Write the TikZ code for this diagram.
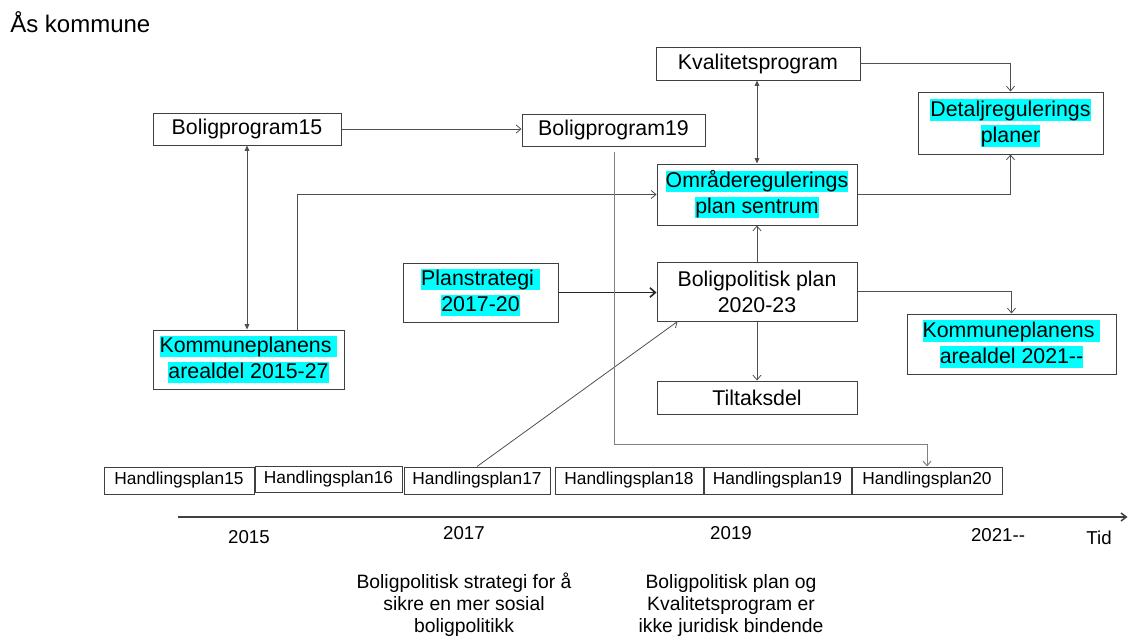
\documentclass[tikz,border=0pt]{standalone}
\usepackage{fontspec}
\setmainfont{Liberation Sans}
\usetikzlibrary{arrows.meta,calc}
\definecolor{hl}{HTML}{00FFFF}
\definecolor{edgecol}{HTML}{404040}
\definecolor{conncol}{HTML}{505050}
\definecolor{lgray}{HTML}{808080}
\newcommand{\hlc}[1]{{\setlength{\fboxsep}{0pt}\colorbox{hl}{\rule[-0.2em]{0pt}{1em}#1}}}
\begin{document}
\begin{tikzpicture}[x=0.75pt,y=-0.75pt,
  box/.style={draw=edgecol, line width=0.75pt, inner sep=0pt, align=center, font=\fontsize{16}{19.5}\selectfont, text=black},
  hbox/.style={draw=edgecol, line width=0.75pt, inner sep=0pt, font=\fontsize{13}{15}\selectfont, minimum height=20.25pt},
  link/.style={draw=conncol, line width=0.6pt, -{Straight Barb[length=3.5pt,width=6pt]}},
  boldlink/.style={draw=black!85, line width=1.2pt, -{Straight Barb[length=4pt,width=7pt]}},
  dbl/.style={draw=conncol, line width=0.6pt, {Triangle[length=4pt,width=3.5pt]}-{Triangle[length=4pt,width=3.5pt]}},
  glink/.style={draw=lgray, line width=0.75pt, -{Straight Barb[length=3.5pt,width=6pt]}},
  axis/.style={draw=edgecol, line width=1.1pt, -{Straight Barb[length=4pt,width=6pt]}},
  yr/.style={font=\fontsize{14}{16}\selectfont, inner sep=0pt},
  note/.style={align=center, font=\fontsize{14.5}{16.5}\selectfont, inner sep=0pt},
  title/.style={font=\fontsize{18}{21}\selectfont, inner sep=0pt}]
\useasboundingbox (0,0) rectangle (1128,639);

\node[title, anchor=base west] (ttl) at (10,32) {Ås kommune};

\node[box, minimum width=153pt, minimum height=24.75pt] (kval) at (758,63.5) {Kvalitetsprogram};
\node[box, minimum width=138.75pt, minimum height=46.5pt] (detalj) at (1010.5,123) {\hlc{Detaljregulerings}\\\hlc{planer}};
\node[box, minimum width=141pt, minimum height=24pt] (bp15) at (247,129) {Boligprogram15};
\node[box, minimum width=137.25pt, minimum height=24pt] (bp19) at (613.5,130) {Boligprogram19};
\node[box, minimum width=150pt, minimum height=45.75pt] (omr) at (757,194.5) {\hlc{Områderegulerings}\\\hlc{plan sentrum}};
\node[box, minimum width=116.25pt, minimum height=44.25pt] (plan) at (480.5,292.5) {\hlc{Planstrategi }\\\hlc{2017-20}};
\node[box, minimum width=150pt, minimum height=44.25pt] (bpp) at (757,291.5) {Boligpolitisk plan\\2020-23};
\node[box, minimum width=143.25pt, minimum height=44.25pt] (kp15) at (248.5,359.5) {\hlc{Kommuneplanens }\\\hlc{arealdel 2015-27}};
\node[box, minimum width=156.75pt, minimum height=45pt] (kp21) at (1011.5,344) {\hlc{Kommuneplanens }\\\hlc{arealdel 2021-{}-}};
\node[box, minimum width=150pt, minimum height=24.75pt] (tilt) at (757,397.5) {Tiltaksdel};

\node[hbox, minimum width=112.5pt] (h15) at (179,480.5) {Handlingsplan15};
\node[hbox, minimum width=110.25pt, minimum height=19.5pt] (h16) at (328.5,479) {Handlingsplan16};
\node[hbox, minimum width=109.5pt] (h17) at (477,480.5) {Handlingsplan17};
\node[hbox, minimum width=111pt] (h18) at (629,480.5) {Handlingsplan18};
\node[hbox, minimum width=110.25pt] (h19) at (777.5,480.5) {Handlingsplan19};
\node[hbox, minimum width=112.5pt] (h20) at (927,480.5) {Handlingsplan20};

\draw[link] (kval.east) -| (detalj.north);
\draw[dbl] (omr.north) -- (omr.north |- kval.south);
\draw[link] (omr.east) -| (detalj.south);
\draw[link] (bpp.east) -| (kp21.north);
\draw[link] (bpp.north) -- (omr.south);
\draw[link] (bpp.south) -- (tilt.north);
\draw[boldlink] (plan.east) -- (plan.east -| bpp.west);
\draw[link] (bp15.east) -- (bp15.east -| bp19.west);
\draw[dbl] (bp15.south) -- (bp15.south |- kp15.north);
\draw[link] ($(kp15.north)+(48.5,0)$) |- (omr.west);
\draw[link] (h17.north) -- ($(bpp.south west)+(21,0)$);

\coordinate (g1) at (614,152);
\coordinate (g2) at (614,444);
\draw[glink] (g1) -- (g2) -| (h20.north);

\coordinate (t0) at (178,517);
\coordinate (t1) at (1127.5,517);
\draw[axis] (t0) -- (t1);

\node[yr] (y15) at (249,537) {2015};
\node[yr] (y17) at (464,533) {2017};
\node[yr] (y19) at (731,533) {2019};
\node[yr] (y21) at (998,535) {2021-{}-};
\node[yr] (tid) at (1099,538) {Tid};

\node[note] (n1) at (464,605) {Boligpolitisk strategi for å\\sikre en mer sosial\\boligpolitikk};
\node[note] (n2) at (731,605) {Boligpolitisk plan og\\Kvalitetsprogram er\\ikke juridisk bindende};
\end{tikzpicture}
\end{document}
